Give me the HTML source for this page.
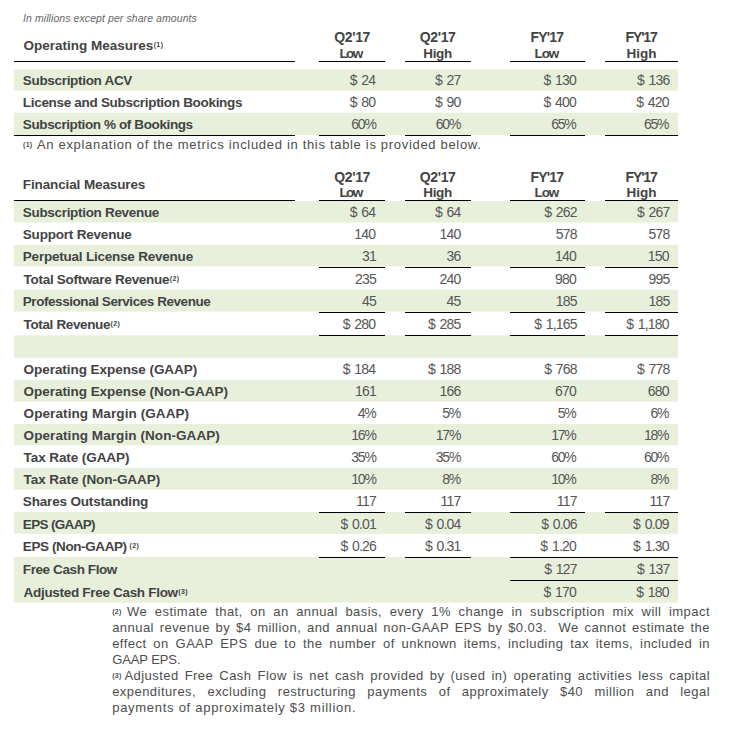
<!DOCTYPE html>
<html><head><meta charset="utf-8"><style>
html,body{margin:0;padding:0;background:#fff;}
body{width:732px;height:730px;position:relative;overflow:hidden;font-family:"Liberation Sans",sans-serif;}
.g{position:absolute;left:14px;width:664px;background:#e8f0dc;}
.l{position:absolute;height:1px;background:#000;}
.t{position:absolute;white-space:nowrap;line-height:0;height:0;}
.it{font-size:10.5px;color:#666;font-style:italic;}
.hd{font-size:13.5px;color:#434343;font-weight:bold;}
.ch{font-size:14px;color:#434343;font-weight:bold;}
.ch2{font-size:13.5px;color:#434343;font-weight:bold;}
.lb{font-size:13.5px;color:#434343;font-weight:bold;}
.nm{font-size:14px;color:#565656;}
.fn{font-size:13px;color:#4d4d4d;}
.nm{word-spacing:1.5px;}
.sup{font-size:7px;position:relative;top:-3px;font-weight:bold;letter-spacing:0.4px;margin-left:0.5px;}
.fs{font-size:7px;font-weight:bold;letter-spacing:0.3px;}
</style></head><body>
<div class="g" style="top:70px;height:20px"></div>
<div class="g" style="top:69px;height:1px;opacity:0.7"></div>
<div class="g" style="top:90px;height:1px;opacity:0.7"></div>
<div class="g" style="top:113px;height:22px"></div>
<div class="g" style="top:112px;height:1px;opacity:0.3"></div>
<div class="g" style="top:201px;height:21px"></div>
<div class="g" style="top:222px;height:1px;opacity:0.4"></div>
<div class="g" style="top:245px;height:21px"></div>
<div class="g" style="top:266px;height:1px;opacity:0.4"></div>
<div class="g" style="top:290px;height:21px"></div>
<div class="g" style="top:289px;height:1px;opacity:0.4"></div>
<div class="g" style="top:311px;height:1px;opacity:0.6"></div>
<div class="g" style="top:336px;height:21px"></div>
<div class="g" style="top:335px;height:1px;opacity:0.7"></div>
<div class="g" style="top:357px;height:1px;opacity:0.8"></div>
<div class="g" style="top:380px;height:21px"></div>
<div class="g" style="top:401px;height:1px;opacity:0.6"></div>
<div class="g" style="top:424px;height:21px"></div>
<div class="g" style="top:445px;height:1px;opacity:0.3"></div>
<div class="g" style="top:468px;height:21px"></div>
<div class="g" style="top:489px;height:1px;opacity:0.6"></div>
<div class="g" style="top:512px;height:21px"></div>
<div class="g" style="top:533px;height:1px;opacity:0.9"></div>
<div class="g" style="top:557px;height:23px"></div>
<div class="g" style="top:580px;height:22px"></div>
<div class="g" style="top:602px;height:1px;opacity:0.7"></div>
<div class="l" style="left:14px;top:61px;width:281px"></div>
<div class="l" style="left:319px;top:61px;width:66px"></div>
<div class="l" style="left:405px;top:61px;width:66px"></div>
<div class="l" style="left:510px;top:61px;width:75px"></div>
<div class="l" style="left:605px;top:61px;width:73px"></div>
<div class="l" style="left:14px;top:135px;width:281px"></div>
<div class="l" style="left:319px;top:135px;width:66px"></div>
<div class="l" style="left:405px;top:135px;width:66px"></div>
<div class="l" style="left:510px;top:135px;width:75px"></div>
<div class="l" style="left:605px;top:135px;width:73px"></div>
<div class="l" style="left:14px;top:200px;width:281px"></div>
<div class="l" style="left:319px;top:200px;width:66px"></div>
<div class="l" style="left:405px;top:200px;width:66px"></div>
<div class="l" style="left:510px;top:200px;width:75px"></div>
<div class="l" style="left:605px;top:200px;width:73px"></div>
<div class="l" style="left:319px;top:267px;width:66px"></div>
<div class="l" style="left:405px;top:267px;width:66px"></div>
<div class="l" style="left:510px;top:267px;width:75px"></div>
<div class="l" style="left:605px;top:267px;width:73px"></div>
<div class="l" style="left:319px;top:312px;width:66px"></div>
<div class="l" style="left:405px;top:312px;width:66px"></div>
<div class="l" style="left:510px;top:312px;width:75px"></div>
<div class="l" style="left:605px;top:312px;width:73px"></div>
<div class="l" style="left:319px;top:335px;width:66px"></div>
<div class="l" style="left:405px;top:335px;width:66px"></div>
<div class="l" style="left:510px;top:335px;width:75px"></div>
<div class="l" style="left:605px;top:335px;width:73px"></div>
<div class="l" style="left:319px;top:512px;width:66px"></div>
<div class="l" style="left:405px;top:512px;width:66px"></div>
<div class="l" style="left:510px;top:512px;width:75px"></div>
<div class="l" style="left:605px;top:512px;width:73px"></div>
<div class="l" style="left:319px;top:557px;width:66px"></div>
<div class="l" style="left:405px;top:557px;width:66px"></div>
<div class="l" style="left:510px;top:557px;width:168px"></div>
<div class="l" style="left:510px;top:580px;width:168px"></div>
<div class="t it" style="top:18.46px;letter-spacing:0.082px;left:22.98px;">In millions except per share amounts</div>
<div class="t hd" style="top:46.12px;letter-spacing:-0.014px;left:23.6px;">Operating Measures<span class="sup">(1)</span></div>
<div class="t ch" style="top:37.35px;letter-spacing:-0.36px;left:252.12px;width:200px;text-align:center;">Q2'17</div>
<div class="t ch2" style="top:53.52px;letter-spacing:-1.68px;left:250.52px;width:200px;text-align:center;">Low</div>
<div class="t ch" style="top:37.35px;letter-spacing:-0.36px;left:337.6px;width:200px;text-align:center;">Q2'17</div>
<div class="t ch2" style="top:53.52px;letter-spacing:-0.373px;left:337.6px;width:200px;text-align:center;">High</div>
<div class="t ch" style="top:37.35px;letter-spacing:-0.84px;left:446.84px;width:200px;text-align:center;">FY'17</div>
<div class="t ch2" style="top:53.52px;letter-spacing:-1.12px;left:446.44px;width:200px;text-align:center;">Low</div>
<div class="t ch" style="top:37.35px;letter-spacing:-1.16px;left:541.08px;width:200px;text-align:center;">FY'17</div>
<div class="t ch2" style="top:53.52px;left:541.48px;width:200px;text-align:center;">High</div>
<div class="t lb" style="top:80.92px;letter-spacing:-0.315px;left:22.8px;">Subscription ACV</div>
<div class="t nm" style="top:80.15px;letter-spacing:-0.8px;right:356.78px;">$ 24</div>
<div class="t nm" style="top:80.15px;letter-spacing:-0.8px;right:271.48px;">$ 27</div>
<div class="t nm" style="top:80.15px;letter-spacing:-0.8px;right:156.07px;">$ 130</div>
<div class="t nm" style="top:80.15px;letter-spacing:-0.8px;right:62.51px;">$ 136</div>
<div class="t lb" style="top:102.72px;letter-spacing:-0.308px;left:22.8px;">License and Subscription Bookings</div>
<div class="t nm" style="top:101.95px;letter-spacing:-0.8px;right:356.78px;">$ 80</div>
<div class="t nm" style="top:101.95px;letter-spacing:-0.8px;right:271.48px;">$ 90</div>
<div class="t nm" style="top:101.95px;letter-spacing:-0.8px;right:156.07px;">$ 400</div>
<div class="t nm" style="top:101.95px;letter-spacing:-0.8px;right:63.31px;">$ 420</div>
<div class="t lb" style="top:124.52px;letter-spacing:-0.387px;left:22.8px;">Subscription % of Bookings</div>
<div class="t nm" style="top:123.75px;letter-spacing:-1.2px;right:356.38px;">60%</div>
<div class="t nm" style="top:123.75px;letter-spacing:-1.2px;right:271.88px;">60%</div>
<div class="t nm" style="top:123.75px;letter-spacing:-1.2px;right:156.42px;">65%</div>
<div class="t nm" style="top:123.75px;letter-spacing:-1.2px;right:63.66px;">65%</div>
<div class="t fn" style="top:144.9px;letter-spacing:0.683px;left:36.96px;">An explanation of the metrics included in this table is provided below.</div>
<div class="t hd" style="top:184.92px;letter-spacing:-0.118px;left:22.8px;">Financial Measures</div>
<div class="t ch" style="top:177.15px;letter-spacing:-0.36px;left:252.12px;width:200px;text-align:center;">Q2'17</div>
<div class="t ch2" style="top:192.82px;letter-spacing:-1.68px;left:250.52px;width:200px;text-align:center;">Low</div>
<div class="t ch" style="top:177.15px;letter-spacing:-0.36px;left:337.6px;width:200px;text-align:center;">Q2'17</div>
<div class="t ch2" style="top:192.82px;letter-spacing:-0.373px;left:337.6px;width:200px;text-align:center;">High</div>
<div class="t ch" style="top:177.15px;letter-spacing:-0.84px;left:446.84px;width:200px;text-align:center;">FY'17</div>
<div class="t ch2" style="top:192.82px;letter-spacing:-1.12px;left:446.44px;width:200px;text-align:center;">Low</div>
<div class="t ch" style="top:177.15px;letter-spacing:-1.16px;left:541.08px;width:200px;text-align:center;">FY'17</div>
<div class="t ch2" style="top:192.82px;left:541.48px;width:200px;text-align:center;">High</div>
<div class="t lb" style="top:212.82px;letter-spacing:-0.316px;left:22.8px;">Subscription Revenue</div>
<div class="t nm" style="top:212.05px;letter-spacing:-0.8px;right:356.78px;">$ 64</div>
<div class="t nm" style="top:212.05px;letter-spacing:-0.8px;right:271.48px;">$ 64</div>
<div class="t nm" style="top:212.05px;letter-spacing:-0.8px;right:155.27px;">$ 262</div>
<div class="t nm" style="top:212.05px;letter-spacing:-0.8px;right:62.51px;">$ 267</div>
<div class="t lb" style="top:234.82px;letter-spacing:-0.2px;left:22.8px;">Support Revenue</div>
<div class="t nm" style="top:234.05px;letter-spacing:-0.8px;right:356.82px;">140</div>
<div class="t nm" style="top:234.05px;letter-spacing:-0.8px;right:271.52px;">140</div>
<div class="t nm" style="top:234.05px;letter-spacing:-0.8px;right:155.26px;">578</div>
<div class="t nm" style="top:234.05px;letter-spacing:-0.8px;right:62.5px;">578</div>
<div class="t lb" style="top:256.92px;letter-spacing:-0.217px;left:22.8px;">Perpetual License Revenue</div>
<div class="t nm" style="top:256.15px;letter-spacing:-0.8px;right:355.97px;">31</div>
<div class="t nm" style="top:256.15px;letter-spacing:-0.8px;right:271.47px;">36</div>
<div class="t nm" style="top:256.15px;letter-spacing:-0.8px;right:156.06px;">140</div>
<div class="t nm" style="top:256.15px;letter-spacing:-0.8px;right:63.3px;">150</div>
<div class="t lb" style="top:280.12px;letter-spacing:-0.293px;left:23.6px;">Total Software Revenue<span class="sup">(2)</span></div>
<div class="t nm" style="top:279.35px;letter-spacing:-0.8px;right:356.02px;">235</div>
<div class="t nm" style="top:279.35px;letter-spacing:-0.8px;right:271.52px;">240</div>
<div class="t nm" style="top:279.35px;letter-spacing:-0.8px;right:156.06px;">980</div>
<div class="t nm" style="top:279.35px;letter-spacing:-0.8px;right:62.5px;">995</div>
<div class="t lb" style="top:302.12px;letter-spacing:-0.443px;left:22.8px;">Professional Services Revenue</div>
<div class="t nm" style="top:301.35px;letter-spacing:-0.8px;right:355.97px;">45</div>
<div class="t nm" style="top:301.35px;letter-spacing:-0.8px;right:271.47px;">45</div>
<div class="t nm" style="top:301.35px;letter-spacing:-0.8px;right:155.26px;">185</div>
<div class="t nm" style="top:301.35px;letter-spacing:-0.8px;right:62.5px;">185</div>
<div class="t lb" style="top:324.82px;letter-spacing:-0.367px;left:23.6px;">Total Revenue<span class="sup">(2)</span></div>
<div class="t nm" style="top:324.05px;letter-spacing:-0.8px;right:356.84px;">$ 280</div>
<div class="t nm" style="top:324.05px;letter-spacing:-0.8px;right:271.54px;">$ 285</div>
<div class="t nm" style="top:324.05px;letter-spacing:-0.8px;right:155.22px;">$ 1,165</div>
<div class="t nm" style="top:324.05px;letter-spacing:-0.8px;right:63.26px;">$ 1,180</div>
<div class="t lb" style="top:370.12px;letter-spacing:-0.052px;left:23.6px;">Operating Expense (GAAP)</div>
<div class="t nm" style="top:369.35px;letter-spacing:-0.8px;right:356.84px;">$ 184</div>
<div class="t nm" style="top:369.35px;letter-spacing:-0.8px;right:271.54px;">$ 188</div>
<div class="t nm" style="top:369.35px;letter-spacing:-0.8px;right:155.27px;">$ 768</div>
<div class="t nm" style="top:369.35px;letter-spacing:-0.8px;right:62.51px;">$ 778</div>
<div class="t lb" style="top:392.12px;letter-spacing:-0.044px;left:23.6px;">Operating Expense (Non-GAAP)</div>
<div class="t nm" style="top:391.35px;letter-spacing:-0.8px;right:356.02px;">161</div>
<div class="t nm" style="top:391.35px;letter-spacing:-0.8px;right:271.52px;">166</div>
<div class="t nm" style="top:391.35px;letter-spacing:-0.8px;right:156.06px;">670</div>
<div class="t nm" style="top:391.35px;letter-spacing:-0.8px;right:63.3px;">680</div>
<div class="t lb" style="top:414.12px;letter-spacing:0.091px;left:23.6px;">Operating Margin (GAAP)</div>
<div class="t nm" style="top:413.35px;letter-spacing:-1.2px;right:356.4px;">4%</div>
<div class="t nm" style="top:413.35px;letter-spacing:-1.2px;right:271.9px;">5%</div>
<div class="t nm" style="top:413.35px;letter-spacing:-1.2px;right:156.44px;">5%</div>
<div class="t nm" style="top:413.35px;letter-spacing:-1.2px;right:63.68px;">6%</div>
<div class="t lb" style="top:436.02px;letter-spacing:0.077px;left:23.6px;">Operating Margin (Non-GAAP)</div>
<div class="t nm" style="top:435.25px;letter-spacing:-1.2px;right:356.38px;">16%</div>
<div class="t nm" style="top:435.25px;letter-spacing:-1.2px;right:271.88px;">17%</div>
<div class="t nm" style="top:435.25px;letter-spacing:-1.2px;right:156.42px;">17%</div>
<div class="t nm" style="top:435.25px;letter-spacing:-1.2px;right:63.66px;">18%</div>
<div class="t lb" style="top:458.12px;letter-spacing:-0.086px;left:23.6px;">Tax Rate (GAAP)</div>
<div class="t nm" style="top:457.35px;letter-spacing:-1.2px;right:356.38px;">35%</div>
<div class="t nm" style="top:457.35px;letter-spacing:-1.2px;right:271.88px;">35%</div>
<div class="t nm" style="top:457.35px;letter-spacing:-1.2px;right:156.42px;">60%</div>
<div class="t nm" style="top:457.35px;letter-spacing:-1.2px;right:63.66px;">60%</div>
<div class="t lb" style="top:479.72px;letter-spacing:-0.067px;left:23.6px;">Tax Rate (Non-GAAP)</div>
<div class="t nm" style="top:478.95px;letter-spacing:-1.2px;right:356.38px;">10%</div>
<div class="t nm" style="top:478.95px;letter-spacing:-1.2px;right:271.9px;">8%</div>
<div class="t nm" style="top:478.95px;letter-spacing:-1.2px;right:156.42px;">10%</div>
<div class="t nm" style="top:478.95px;letter-spacing:-1.2px;right:63.68px;">8%</div>
<div class="t lb" style="top:502.12px;letter-spacing:-0.165px;left:22.8px;">Shares Outstanding</div>
<div class="t nm" style="top:501.35px;letter-spacing:-0.8px;right:356.01px;">117</div>
<div class="t nm" style="top:501.35px;letter-spacing:-0.8px;right:271.51px;">117</div>
<div class="t nm" style="top:501.35px;letter-spacing:-0.8px;right:155.25px;">117</div>
<div class="t nm" style="top:501.35px;letter-spacing:-0.8px;right:62.49px;">117</div>
<div class="t lb" style="top:524.92px;letter-spacing:-0.667px;left:22.8px;">EPS (GAAP)</div>
<div class="t nm" style="top:524.15px;letter-spacing:-0.8px;right:356.0px;">$ 0.01</div>
<div class="t nm" style="top:524.15px;letter-spacing:-0.8px;right:271.5px;">$ 0.04</div>
<div class="t nm" style="top:524.15px;letter-spacing:-0.8px;right:155.24px;">$ 0.06</div>
<div class="t nm" style="top:524.15px;letter-spacing:-0.8px;right:63.28px;">$ 0.09</div>
<div class="t lb" style="top:546.92px;letter-spacing:-0.4px;left:22.8px;">EPS (Non-GAAP)<span class="sup" style="margin-left:2.8px">(2)</span></div>
<div class="t nm" style="top:546.15px;letter-spacing:-0.8px;right:356.0px;">$ 0.26</div>
<div class="t nm" style="top:546.15px;letter-spacing:-0.8px;right:271.5px;">$ 0.31</div>
<div class="t nm" style="top:546.15px;letter-spacing:-0.8px;right:156.04px;">$ 1.20</div>
<div class="t nm" style="top:546.15px;letter-spacing:-0.8px;right:63.28px;">$ 1.30</div>
<div class="t lb" style="top:569.82px;letter-spacing:-0.4px;left:22.8px;">Free Cash Flow</div>
<div class="t nm" style="top:569.05px;letter-spacing:-0.8px;right:155.27px;">$ 127</div>
<div class="t nm" style="top:569.05px;letter-spacing:-0.8px;right:62.51px;">$ 137</div>
<div class="t lb" style="top:592.72px;letter-spacing:-0.309px;left:23.6px;">Adjusted Free Cash Flow<span class="sup">(3)</span></div>
<div class="t nm" style="top:591.95px;letter-spacing:-0.8px;right:156.07px;">$ 170</div>
<div class="t nm" style="top:591.95px;letter-spacing:-0.8px;right:63.31px;">$ 180</div>
<div class="t fn" style="top:611.8px;left:127.1px;width:582.9px;letter-spacing:0.45px;text-align:justify;text-align-last:justify;">We estimate that, on an annual basis, every 1% change in subscription mix will impact</div>
<div class="t fn fs" style="top:611.8px;left:112.2px;">(2)</div>
<div class="t fn" style="top:627.8px;left:112.2px;width:597.8px;letter-spacing:0.45px;text-align:justify;text-align-last:justify;">annual revenue by $4 million, and annual non-GAAP EPS by $0.03.&nbsp; We cannot estimate the</div>
<div class="t fn" style="top:643.8px;left:112.2px;width:597.8px;letter-spacing:0.45px;text-align:justify;text-align-last:justify;">effect on GAAP EPS due to the number of unknown items, including tax items, included in</div>
<div class="t fn" style="top:659.8px;left:112.2px;letter-spacing:-0.1px;">GAAP EPS.</div>
<div class="t fn" style="top:675.8px;left:124.4px;width:585.6px;letter-spacing:0.45px;text-align:justify;text-align-last:justify;">Adjusted Free Cash Flow is net cash provided by (used in) operating activities less capital</div>
<div class="t fn fs" style="top:675.8px;left:112.2px;">(3)</div>
<div class="t fn" style="top:691.8px;left:112.2px;width:597.8px;letter-spacing:0.45px;text-align:justify;text-align-last:justify;">expenditures, excluding restructuring payments of approximately $40 million and legal</div>
<div class="t fn" style="top:707.8px;left:112.2px;letter-spacing:0.72px;">payments of approximately $3 million.</div>
<div class="t fn fs" style="top:144.9px;left:23.0px;">(1)</div>
</body></html>
